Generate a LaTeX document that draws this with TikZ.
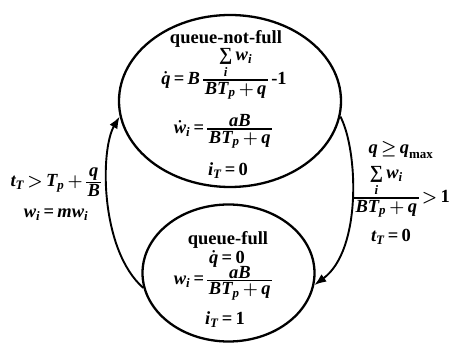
\documentclass[tikz,border=0pt]{standalone}
\usepackage{amsmath}
\usepackage{fontspec}
\setmainfont{Liberation Serif}
\usetikzlibrary{shapes.geometric,arrows.meta}
\newcommand\mi[1]{\text{\bfseries\itshape #1}}
\newcommand\mb[1]{\text{\bfseries #1}}
\newcommand\sm{\mathop{\text{\bfseries ∑}}\limits}
\newcommand\fr[2]{\mathord{\setbox0=\hbox{$#1$}\raise\dimexpr\dp0+2.15pt+4.6pt\relax\vtop{\offinterlineskip\halign{\hfil\kern1.5pt##\kern1.5pt\hfil\cr\copy0\cr\noalign{\kern1.5pt\hrule height1.3pt\kern1.5pt}$#2$\cr}}}}
\begin{document}
\thickmuskip=3mu\relax
\medmuskip=3mu\relax
\begin{tikzpicture}[x=1pt,y=-1pt,
  state/.style={draw, ellipse, line width=2.3pt, inner sep=0pt},
  lbl/.style={inner sep=0pt, anchor=base, font={\fontsize{18.5}{20}\selectfont\bfseries\boldmath}},
  conn/.style={line width=1.9pt, -{Latex[length=12pt,width=9pt]}}]
\useasboundingbox (0,0) rectangle (453,352);
% states
\node[state, minimum width=222pt, minimum height=172pt] (top) at (230,101) {};
\node[state, minimum width=172pt, minimum height=137pt] (bot) at (228.5,273) {};
% texts of the upper state
\node[lbl] (t1) at (226,44) {queue-not-full};
\node[lbl] (t2) at (224,84.5) {$\dot{\mi{q}}\mathrel{\mb{=}}\mi{B}\,\fr{\sm_{\mi{i}}\mi{w}_{\mi{i}}}{\mi{B}\mi{T}_{\mi{p}}+\mi{q}}\;\mb{-1}$};
\node[lbl] (t3) at (223,133.5) {$\dot{\mi{w}}_{\mi{i}}\mathrel{\mb{=}}\fr{\mi{a}\mi{B}}{\mi{B}\mi{T}_{\mi{p}}+\mi{q}}$};
\node[lbl] (t4) at (228,176) {$\mi{i}_{\mi{T}}\mathrel{\mb{=}}\mb{0}$};
% texts of the lower state
\node[lbl] (b1) at (228,245) {queue-full};
\node[lbl] (b2) at (227,263.5) {$\dot{\mi{q}}\mathrel{\mb{=}}\mb{0}$};
\node[lbl] (b3) at (223,285) {$\mi{w}_{\mi{i}}\mathrel{\mb{=}}\fr{\mi{a}\mi{B}}{\mi{B}\mi{T}_{\mi{p}}+\mi{q}}$};
\node[lbl] (b4) at (225,325) {$\mi{i}_{\mi{T}}\mathrel{\mb{=}}\mb{1}$};
% connectors
\draw[conn] (bot.190) .. controls (100,250) and (100,150) .. (top.188);
\draw[conn] (top.-8) .. controls (358,150) and (362,250) .. (bot.-8);
% left label
\node[lbl] (l1) at (56,187) {$\mi{t}_{\mi{T}}\mathrel{>}\mi{T}_{\mi{p}}+\fr{\mi{q}}{\mi{B}}$};
\node[lbl] (l2) at (56,218) {$\mi{w}_{\mi{i}}\mathrel{\mb{=}}\mi{m}\mi{w}_{\mi{i}}$};
% right label
\node[lbl] (r1) at (401,154) {$\mi{q}\geq\mi{q}_{\mb{max}}$};
\node[lbl] (r2) at (402,202.5) {$\fr{\sm_{\mi{i}}\mi{w}_{\mi{i}}}{\mi{B}\mi{T}_{\mi{p}}+\mi{q}}\mathrel{>}\mb{1}$};
\node[lbl] (r3) at (391,242) {$\mi{t}_{\mi{T}}\mathrel{\mb{=}}\mb{0}$};
\end{tikzpicture}
\end{document}
